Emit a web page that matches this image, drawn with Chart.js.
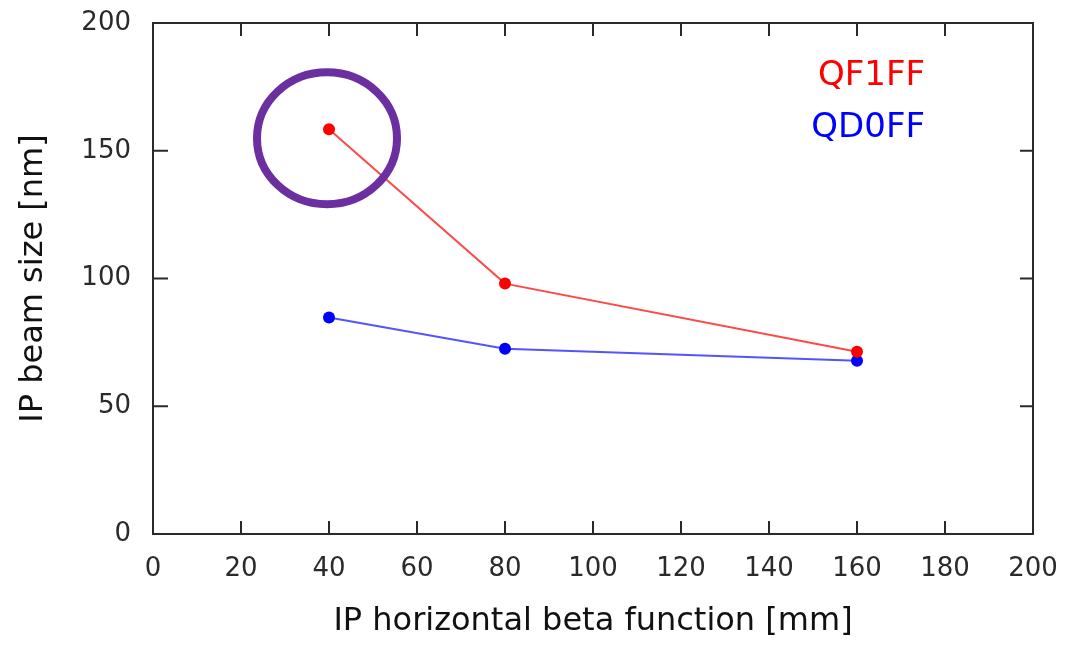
<!DOCTYPE html>
<html>
<head>
<meta charset="utf-8">
<script src="https://cdn.jsdelivr.net/npm/chart.js@4.4.1/dist/chart.umd.min.js"></script>
<style>
    html, body { margin: 0; padding: 0; background: #fff; }
    #wrap { width: 1067px; height: 645px; }
</style>
</head>
<body>
<div id="wrap"><canvas id="chart" width="1067" height="645"></canvas></div>
<script>
// Data
const betaX = [40, 80, 160];
const qf1ffSize = [158.4, 98, 71.3];
const qd0ffSize = [84.7, 72.5, 67.8];
const seriesNames = ["QF1FF", "QD0FF"];
const xTicks = [0, 20, 40, 60, 80, 100, 120, 140, 160, 180, 200];
const yTicks = [0, 50, 100, 150, 200];

const FONT = "'DejaVu Sans', Arial, sans-serif";
const INK = "#2a2a2a";

// frame + inward ticks on all four sides
const framePlugin = {
    id: "frame",
    afterDraw(chart) {
        const { ctx, chartArea: a, scales } = chart;
        ctx.save();
        ctx.strokeStyle = INK;
        ctx.lineWidth = 2;
        ctx.strokeRect(a.left, a.top, a.right - a.left, a.bottom - a.top);
        const len = 13;
        ctx.beginPath();
        xTicks.forEach(v => {
            if (v === 0 || v === 200) return;
            const px = scales.x.getPixelForValue(v);
            ctx.moveTo(px, a.bottom); ctx.lineTo(px, a.bottom - len);
            ctx.moveTo(px, a.top); ctx.lineTo(px, a.top + len);
        });
        yTicks.forEach(v => {
            if (v === 0 || v === 200) return;
            const py = scales.y.getPixelForValue(v);
            ctx.moveTo(a.left, py); ctx.lineTo(a.left + len + 2, py);
            ctx.moveTo(a.right, py); ctx.lineTo(a.right - len, py);
        });
        ctx.stroke();
        ctx.restore();
    }
};

// text legend in the upper right, coloured per series
const textLegend = {
    id: "textLegend",
    afterDraw(chart) {
        const { ctx } = chart;
        ctx.save();
        ctx.font = "34px " + FONT;
        ctx.textAlign = "right";
        ctx.textBaseline = "middle";
        chart.data.datasets.forEach((ds, i) => {
            ctx.fillStyle = ds.labelColor;
            ctx.fillText(ds.label, 925, 76 + i * 52);
        });
        ctx.restore();
    }
};

// purple ring highlighting the first QF1FF point
const ringPlugin = {
    id: "ring",
    afterDraw(chart) {
        const pt = chart.getDatasetMeta(0).data[0];
        const { ctx } = chart;
        ctx.save();
        ctx.strokeStyle = "#6b2fa0";
        ctx.lineWidth = 8;
        ctx.beginPath();
        ctx.ellipse(pt.x - 2, pt.y + 9, 70, 66, 0, 0, Math.PI * 2);
        ctx.stroke();
        ctx.restore();
    }
};

new Chart(document.getElementById("chart"), {
    type: "line",
    data: {
        datasets: [
            {
                label: seriesNames[0],
                data: betaX.map((x, i) => ({ x, y: qf1ffSize[i] })),
                borderColor: "rgba(255, 40, 40, 0.85)",
                backgroundColor: "#ff0000",
                labelColor: "#ff0000",
                borderWidth: 2,
                pointRadius: 6,
                pointBorderWidth: 0,
                tension: 0
            },
            {
                label: seriesNames[1],
                data: betaX.map((x, i) => ({ x, y: qd0ffSize[i] })),
                borderColor: "rgba(40, 40, 255, 0.8)",
                backgroundColor: "#0000ff",
                labelColor: "#0000ff",
                borderWidth: 2,
                pointRadius: 6,
                pointBorderWidth: 0,
                tension: 0
            }
        ]
    },
    options: {
        responsive: false,
        animation: false,
        layout: { padding: { top: 23, right: 34, left: 0, bottom: 0 } },
        plugins: {
            legend: { display: false },
            tooltip: { enabled: false }
        },
        scales: {
            x: {
                type: "linear",
                min: 0,
                max: 200,
                afterBuildTicks: s => { s.ticks = xTicks.map(v => ({ value: v })); },
                afterFit: s => { s.height = 111; s.paddingLeft = 0; s.paddingRight = 0; },
                grid: { display: false, drawTicks: false },
                border: { display: false },
                ticks: { color: INK, font: { family: FONT, size: 26 }, padding: 20, maxRotation: 0 },
                title: {
                    display: true,
                    text: "IP horizontal beta function [mm]",
                    color: "#111",
                    font: { family: FONT, size: 32 },
                    padding: { top: 0, bottom: 4 }
                }
            },
            y: {
                type: "linear",
                min: 0,
                max: 200,
                afterBuildTicks: s => { s.ticks = yTicks.map(v => ({ value: v })); },
                afterFit: s => { s.width = 153; s.paddingTop = 0; s.paddingBottom = 0; },
                grid: { display: false, drawTicks: false },
                border: { display: false },
                ticks: { color: INK, font: { family: FONT, size: 26 }, padding: 22 },
                title: {
                    display: true,
                    text: "IP beam size [nm]",
                    color: "#111",
                    font: { family: FONT, size: 32 },
                    padding: { top: 14, bottom: 0 }
                }
            }
        }
    },
    plugins: [framePlugin, textLegend, ringPlugin]
});
</script>
</body>
</html>
